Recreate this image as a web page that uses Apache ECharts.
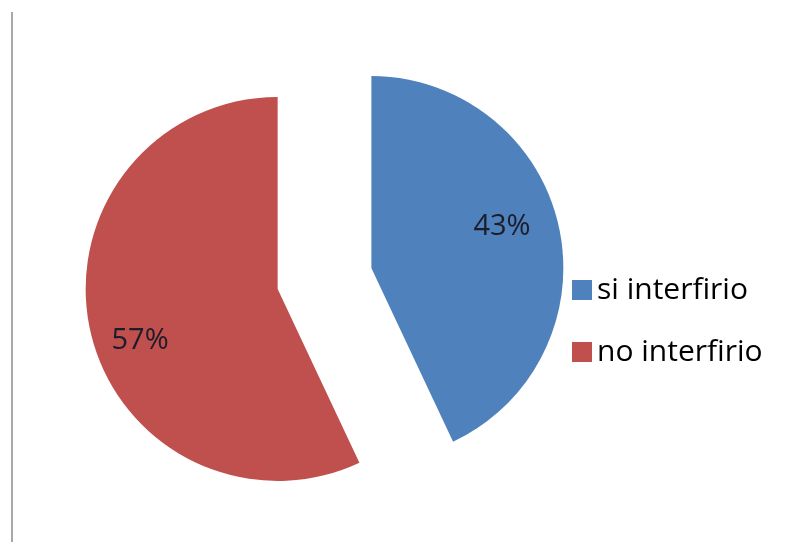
<!DOCTYPE html>
<html>
<head>
<meta charset="utf-8">
<script src="https://cdn.jsdelivr.net/npm/echarts@6/dist/echarts.min.js"></script>
<style>
  html, body { margin: 0; padding: 0; background: #fff; }
  #chart { width: 795px; height: 542px; }
</style>
</head>
<body>
<div id="chart"></div>
<script>
const categories = ['si interfirio', 'no interfirio']
const values = [43, 57]
const colors = ['#4F81BD', '#C0504D']

const myChart = echarts.init(document.getElementById('chart'))

// nudge the percent labels to where the original places them
const labelShift = [[34, -20], [-41, 30]]

const option = {
  animation: false,
  graphic: [{
    type: 'line',
    shape: { x1: 12, y1: 12, x2: 12, y2: 542 },
    style: { stroke: '#a8a8a8', lineWidth: 2 }
  }],
  legend: {
    orient: 'vertical',
    left: 567,
    top: 270,
    itemWidth: 20,
    itemHeight: 20,
    itemGap: 32,
    icon: 'rect',
    selectedMode: false,
    textStyle: {
      fontFamily: 'Open Sans',
      fontSize: 30,
      color: '#000'
    },
    data: categories
  },
  series: [{
    type: 'pie',
    center: [324.5, 278.5],
    radius: 192,
    startAngle: 90,
    selectedMode: 'multiple',
    selectedOffset: 48,
    emphasis: { disabled: true },
    label: {
      show: true,
      position: 'inside',
      formatter: '{d}%',
      fontFamily: 'Open Sans',
      fontSize: 29,
      color: '#1c1c2a'
    },
    labelLayout: (p) => ({ dx: labelShift[p.dataIndex][0], dy: labelShift[p.dataIndex][1] }),
    data: categories.map((name, i) => ({
      name,
      value: values[i],
      selected: true,
      itemStyle: { color: colors[i] }
    }))
  }]
}

myChart.setOption(option)
</script>
</body>
</html>
